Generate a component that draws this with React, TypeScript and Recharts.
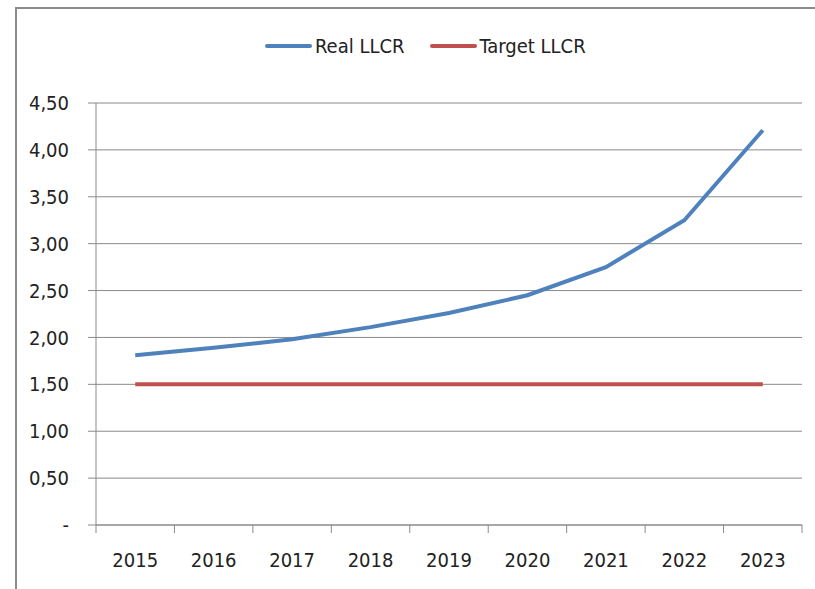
import { LineChart, Line, XAxis, YAxis, CartesianGrid } from 'recharts';

const years = ['2015', '2016', '2017', '2018', '2019', '2020', '2021', '2022', '2023'];
const realLlcr = [1.81, 1.89, 1.98, 2.11, 2.26, 2.45, 2.75, 3.25, 4.21];
const targetLlcr = [1.5, 1.5, 1.5, 1.5, 1.5, 1.5, 1.5, 1.5, 1.5];
const yTicks = [0, 0.5, 1, 1.5, 2, 2.5, 3, 3.5, 4, 4.5];

const series = [
    { key: 'real', name: 'Real LLCR', color: '#4F81BD' },
    { key: 'target', name: 'Target LLCR', color: '#C0504D' },
];

const data = years.map((year, i) => ({
    year,
    real: realLlcr[i],
    target: targetLlcr[i],
}));

const FONT = '"DejaVu Sans Condensed", "DejaVu Sans", sans-serif';
const GRID = '#8a8a8a';
const X_LABEL_GAP = 28;

const fmt = (v: number) => (v === 0 ? '-' : v.toFixed(2).replace('.', ','));

// category tick: label at band centre, small tick marks at the band edges
function YearTick(props: any) {
    const { x, y, payload, index, visibleTicksCount } = props;
    const half = payload.offset || 0;
    const axisY = y - X_LABEL_GAP;
    const last = index === visibleTicksCount - 1;
    return (
        <g>
            <line x1={x - half} x2={x - half} y1={axisY} y2={axisY + 8} stroke={GRID} />
            {last && <line x1={x + half} x2={x + half} y1={axisY} y2={axisY + 8} stroke={GRID} />}
            <text x={x} y={y} dy="0.71em" textAnchor="middle" fill="#222" fontSize={20} fontFamily={FONT}>
                {payload.value}
            </text>
        </g>
    );
}

function LegendRow() {
    return (
        <div
            style={{
                position: 'absolute',
                top: 34,
                left: 265,
                display: 'flex',
                alignItems: 'center',
                fontFamily: FONT,
                fontSize: 20,
                color: '#222',
            }}
        >
            {series.map(s => (
                <div key={s.key} style={{ display: 'flex', alignItems: 'center', marginRight: 25 }}>
                    <div style={{ width: 47, height: 4, borderRadius: 2, background: s.color, marginRight: 3 }} />
                    <span>{s.name}</span>
                </div>
            ))}
        </div>
    );
}

export default function App() {
    return (
        <div style={{ position: 'absolute', left: 0, top: 0, width: 815, height: 589, overflow: 'hidden', background: '#fff' }}>
            <div
                style={{
                    position: 'absolute',
                    left: 15,
                    top: 7,
                    width: 820,
                    height: 600,
                    borderLeft: '2px solid #8c8c8c',
                    borderTop: '2px solid #8c8c8c',
                }}
            />
            <LegendRow />
            <LineChart
                width={815}
                height={589}
                data={data}
                margin={{ top: 103, right: 13, left: 36, bottom: 24 }}
                style={{ position: 'absolute', left: 0, top: 0 }}
            >
                <CartesianGrid vertical={false} stroke={GRID} strokeWidth={1} />
                <XAxis
                    dataKey="year"
                    scale="band"
                    tickLine={false}
                    tickSize={0}
                    tickMargin={X_LABEL_GAP}
                    height={40}
                    axisLine={{ stroke: GRID }}
                    tick={<YearTick />}
                    interval={0}
                />
                <YAxis
                    domain={[0, 4.5]}
                    ticks={yTicks}
                    tickFormatter={fmt}
                    width={60}
                    tickSize={8}
                    tickMargin={19}
                    tickLine={{ stroke: GRID }}
                    axisLine={{ stroke: GRID }}
                    tick={{ fill: '#222', fontSize: 20, fontFamily: FONT }}
                    interval={0}
                />
                {series.map(s => (
                    <Line
                        key={s.key}
                        dataKey={s.key}
                        name={s.name}
                        stroke={s.color}
                        strokeWidth={4}
                        dot={false}
                        type="linear"
                        isAnimationActive={false}
                    />
                ))}
            </LineChart>
        </div>
    );
}
